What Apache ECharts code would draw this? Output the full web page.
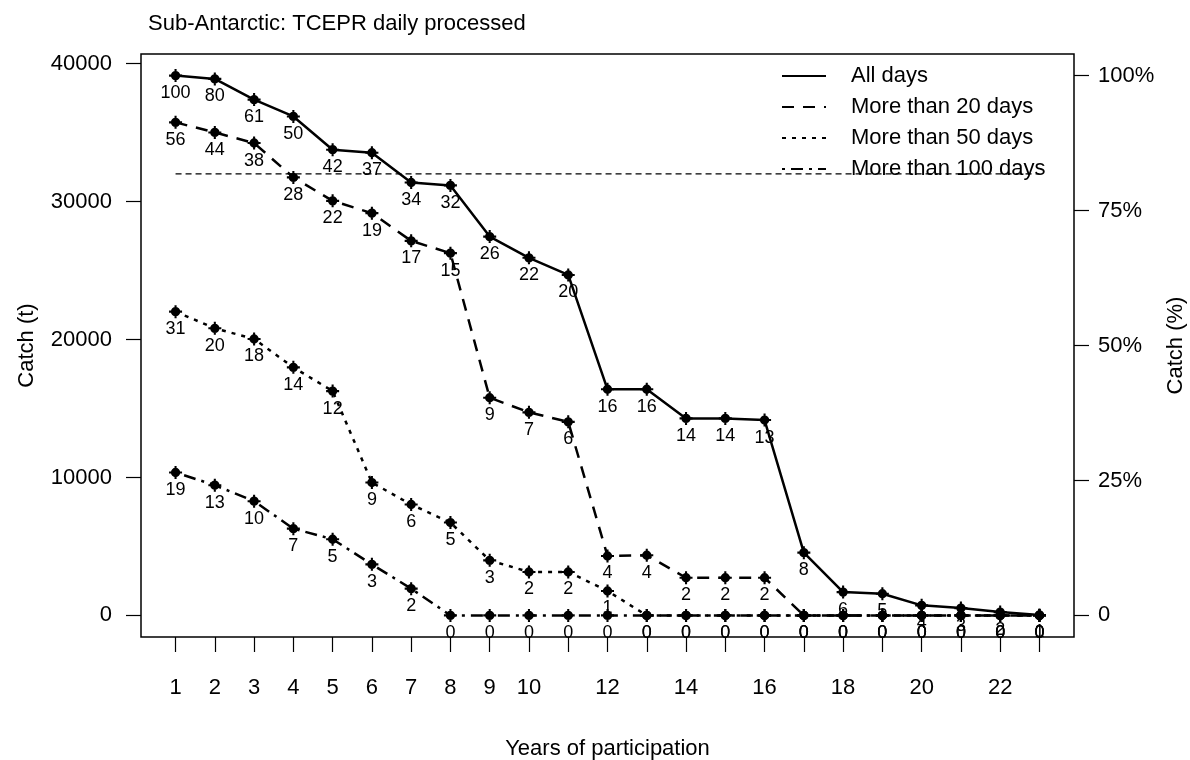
<!DOCTYPE html>
<html>
<head>
<meta charset="utf-8">
<script src="https://cdn.jsdelivr.net/npm/echarts@6/dist/echarts.min.js"></script>
<style>
  html, body { margin: 0; padding: 0; background: #fff; }
  #main { width: 1190px; height: 760px; }
</style>
</head>
<body>
<div id="main"></div>
<script>
// years of participation
var years = [1,2,3,4,5,6,7,8,9,10,11,12,13,14,15,16,17,18,19,20,21,22,23];
var xTicks = years;
var xTickLabels = [1,2,3,4,5,6,7,8,9,10,12,14,16,18,20,22];

// catch (t) per series
var allDays  = [39130,38890,37390,36170,33760,33540,31380,31170,27460,25920,24680,16390,16390,14280,14280,14160,4550,1690,1570,730,530,240,30];
var over20   = [35740,35010,34240,31750,30050,29160,27150,26260,15780,14720,14030,4310,4360,2730,2730,2730,0,0,0,0,0,0,0];
var over50   = [22020,20810,20040,17980,16260,9630,8040,6730,3990,3150,3150,1770,0,0,0,0,0,0,0,0,0,0,0];
var over100  = [10360,9440,8280,6290,5520,3700,1940,0,0,0,0,0,0,0,0,0,0,0,0,0,0,0,0];

// numbers written under the points
var allDaysN = [100,80,61,50,42,37,34,32,26,22,20,16,16,14,14,13,8,6,5,4,3,2,1];
var over20N  = [56,44,38,28,22,19,17,15,9,7,6,4,4,2,2,2,0,0,0,0,0,0,0];
var over50N  = [31,20,18,14,12,9,6,5,3,2,2,1,0,0,0,0,0,0,0,0,0,0,0];
var over100N = [19,13,10,7,5,3,2,0,0,0,0,0,0,0,0,0,0,0,0,0,0,0,0];

var seriesNames = ['All days', 'More than 20 days', 'More than 50 days', 'More than 100 days'];
var yTicks = [0, 10000, 20000, 30000, 40000];
var pctTicks = [0, 25, 50, 75, 100];
var refLine = 32000;

var total = allDays[0];
var ext = total * 0.04;
var font = 'Liberation Sans, Arial, Helvetica, sans-serif';
var star = 'path://M4.2,0H5.8V4.2H10V5.8H5.8V10H4.2V5.8H0V4.2H4.2Z M1.4,5A3.6,3.6,0,1,1,8.6,5A3.6,3.6,0,1,1,1.4,5Z';

function pairs(vals) {
  return years.map(function (x, i) { return [x, vals[i]]; });
}

function makeSeries(name, vals, counts, dash) {
  return {
    name: name,
    type: 'line',
    data: pairs(vals),
    symbol: star,
    symbolSize: 13,
    itemStyle: { color: '#000' },
    lineStyle: { color: '#000', width: 2.5, type: dash, cap: 'butt' },
    label: {
      show: true,
      position: 'bottom',
      distance: 2,
      fontFamily: font,
      fontSize: 18,
      color: '#000',
      formatter: function (p) { return counts[p.dataIndex]; }
    },
    emphasis: { disabled: true },
    animation: false
  };
}

var myChart = echarts.init(document.getElementById('main'));
var option = {
  backgroundColor: '#fff',
  animation: false,
  title: {
    text: 'Sub-Antarctic: TCEPR daily processed',
    left: 143,
    top: 8,
    textStyle: { fontFamily: font, fontSize: 22, fontWeight: 'normal', color: '#000' }
  },
  legend: {
    data: seriesNames,
    orient: 'vertical',
    left: 776,
    top: 60,
    itemWidth: 44,
    itemHeight: 20,
    itemGap: 9,
    selectedMode: false,
    itemStyle: { color: 'rgba(0,0,0,0)', borderColor: 'rgba(0,0,0,0)', borderWidth: 0 },
    textStyle: { fontFamily: font, fontSize: 22, color: '#000', lineHeight: 20, padding: [0, 0, 0, 20] }
  },
  grid: {
    left: 141, right: 116, top: 54, bottom: 123,
    outerBoundsMode: 'none',
    containLabel: false,
    show: true, borderColor: '#000', borderWidth: 1.5, backgroundColor: 'transparent'
  },
  xAxis: {
    type: 'value',
    min: 1 - 22 * 0.04,
    max: 23 + 22 * 0.04,
    name: 'Years of participation',
    nameLocation: 'middle',
    nameGap: 101,
    nameTextStyle: { fontFamily: font, fontSize: 22, color: '#000' },
    axisLine: { show: false, onZero: false },
    splitLine: { show: false },
    axisTick: { show: true, inside: false, length: 15, customValues: xTicks, lineStyle: { color: '#000', width: 1.2 } },
    axisLabel: { customValues: xTickLabels, margin: 40, fontFamily: font, fontSize: 22, color: '#000' }
  },
  yAxis: [{
    type: 'value',
    position: 'left',
    min: -ext,
    max: total + ext,
    name: 'Catch (t)',
    nameLocation: 'middle',
    nameRotate: 90,
    nameGap: 103,
    nameTextStyle: { fontFamily: font, fontSize: 22, color: '#000' },
    axisLine: { show: false, onZero: false },
    splitLine: { show: false },
    axisTick: { show: true, inside: false, length: 15, customValues: yTicks, lineStyle: { color: '#000', width: 1.2 } },
    axisLabel: {
      customValues: yTicks, margin: 29, fontFamily: font, fontSize: 22, color: '#000',
      formatter: function (v) { return String(Math.round(v)); }
    }
  }, {
    type: 'value',
    position: 'right',
    min: -ext,
    max: total + ext,
    name: 'Catch (%)',
    nameLocation: 'middle',
    nameRotate: 90,
    nameGap: 76,
    nameTextStyle: { fontFamily: font, fontSize: 22, color: '#000' },
    axisLine: { show: false, onZero: false },
    splitLine: { show: false },
    axisTick: { show: true, inside: false, length: 15, customValues: pctTicks.map(function (p) { return total * p / 100; }), lineStyle: { color: '#000', width: 1.2 } },
    axisLabel: {
      customValues: pctTicks.map(function (p) { return total * p / 100; }),
      margin: 24, fontFamily: font, fontSize: 22, color: '#000',
      formatter: function (v) {
        var p = Math.round(v / total * 100);
        return p === 0 ? '0' : p + '%';
      }
    }
  }],
  series: [
    {
      name: 'ref',
      type: 'line',
      data: [[years[0], refLine], [years[years.length - 1], refLine]],
      symbol: 'none',
      lineStyle: { color: '#000', width: 1.2, type: [6, 4] },
      silent: true,
      z: 1
    },
    makeSeries(seriesNames[0], allDays, allDaysN, 'solid'),
    makeSeries(seriesNames[1], over20, over20N, [12, 9]),
    makeSeries(seriesNames[2], over50, over50N, [4, 6]),
    makeSeries(seriesNames[3], over100, over100N, [3, 6, 12, 6])
  ]
};
myChart.setOption(option);
</script>
</body>
</html>
